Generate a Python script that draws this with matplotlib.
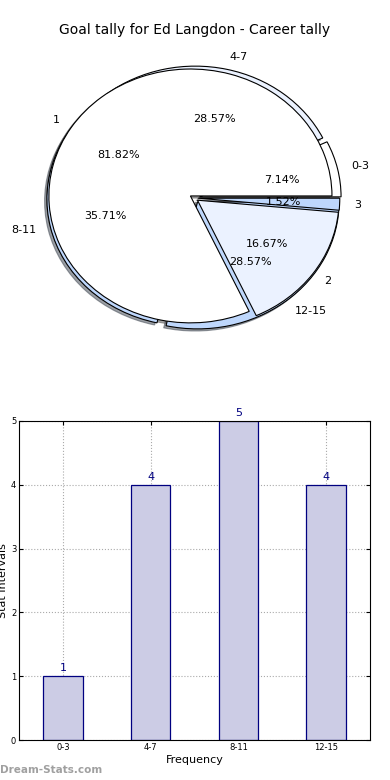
import matplotlib
matplotlib.use("Agg")
import matplotlib.pyplot as plt

TITLE = "Goal tally for Ed Langdon - Career tally"
bins = ["0-3", "4-7", "8-11", "12-15"]
bin_counts = [1, 4, 5, 4]
tally_labels = ["1", "2", "3"]
tally_counts = [54, 11, 1]

WHITE = "#ffffff"
LIGHT = "#ebf2ff"
BLUE = "#bed7fc"

fig = plt.figure(figsize=(3.9, 7.8), dpi=100)

# pie part: two pies stacked on the same axes
ax = fig.add_axes([10 / 390, 417 / 780, 368 / 390, 330 / 780])
wedgeprops = dict(edgecolor="black", linewidth=0.8)
shadow = dict(ox=-0.012, oy=-0.012)
ax.pie(bin_counts, labels=bins, autopct="%1.2f%%", colors=[WHITE, LIGHT, BLUE, BLUE],
       explode=[0.04] * 4, shadow=shadow, wedgeprops=wedgeprops,
       textprops=dict(fontsize=8))
ax.pie(tally_counts, labels=tally_labels, autopct="%1.2f%%", colors=[WHITE, LIGHT, BLUE],
       explode=[0.03] * 3, shadow=shadow, wedgeprops=wedgeprops,
       textprops=dict(fontsize=8))
ax.set_aspect("auto")
ax.set_xlim(-1.3, 1.3)
ax.set_ylim(-1.3, 1.3)
ax.axis("off")
fig.text(0.5, 1 - 30 / 780, TITLE, ha="center", va="center", fontsize=10)

# bar part
ax2 = fig.add_axes([19 / 390, 40 / 780, 351 / 390, 319 / 780])
xs = list(range(len(bins)))
ax2.bar(xs, bin_counts, width=0.45, color="#ccccE5", edgecolor="#000080", linewidth=0.9, zorder=2)
for x, v in zip(xs, bin_counts):
    ax2.text(x, v + 0.05, str(v), ha="center", va="bottom", color="#000080", fontsize=8)
ax2.set_xlim(-0.5, 3.5)
ax2.set_ylim(0, 5)
ax2.set_xticks(xs)
ax2.set_xticklabels(bins)
ax2.set_yticks(range(6))
ax2.tick_params(direction="in", labelsize=6, top=True, right=True, length=3, pad=2)
ax2.grid(True, linestyle=":", color="#aaaaaa", linewidth=0.8, zorder=0)
ax2.set_axisbelow(True)
ax2.set_xlabel("Frequency", fontsize=8, labelpad=2)
ax2.set_ylabel("Stat Intervals", fontsize=8, labelpad=2)
fig.text(0, 1 - 770 / 780, "Dream-Stats.com", ha="left", va="center",
         fontsize=7.5, color="#a0a0a0", fontweight="bold")

fig.savefig("out.png", dpi=100)
